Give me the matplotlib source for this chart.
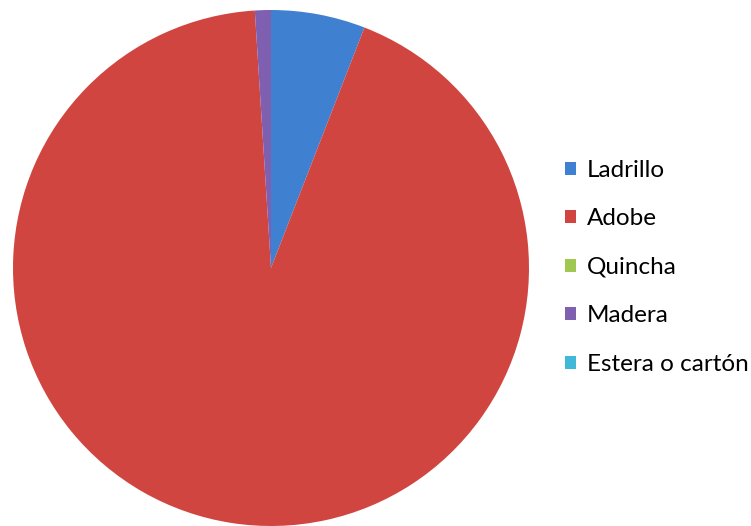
import matplotlib
matplotlib.use("Agg")
import matplotlib.pyplot as plt

categories = ["Ladrillo", "Adobe", "Quincha", "Madera", "Estera o cartón"]
values = [5.9, 93.1, 0.0, 1.0, 0.0]
colors = ["#4080d0", "#d04540", "#a0c850", "#7f5fb0", "#40b8d8"]

fig = plt.figure(figsize=(7.51, 5.26), dpi=100)
ax = fig.add_axes([13 / 751, 0.0, 516 / 751, 516 / 526])
wedges, _ = ax.pie(values, colors=colors, startangle=90, counterclock=False,
                   radius=1.0, wedgeprops=dict(linewidth=0))
ax.set_xlim(-1, 1)
ax.set_ylim(-1, 1)
ax.set_aspect("equal")
ax.axis("off")

leg = fig.legend(wedges, categories, loc="upper left",
                 bbox_to_anchor=(565 / 751, 1 - 160 / 526), frameon=False,
                 prop={"family": "Lato", "size": 17.5},
                 handlelength=0.45, handleheight=0.45, handletextpad=0.45,
                 labelspacing=1.13, borderaxespad=0, borderpad=0)
fig.savefig("out.png", dpi=100)
